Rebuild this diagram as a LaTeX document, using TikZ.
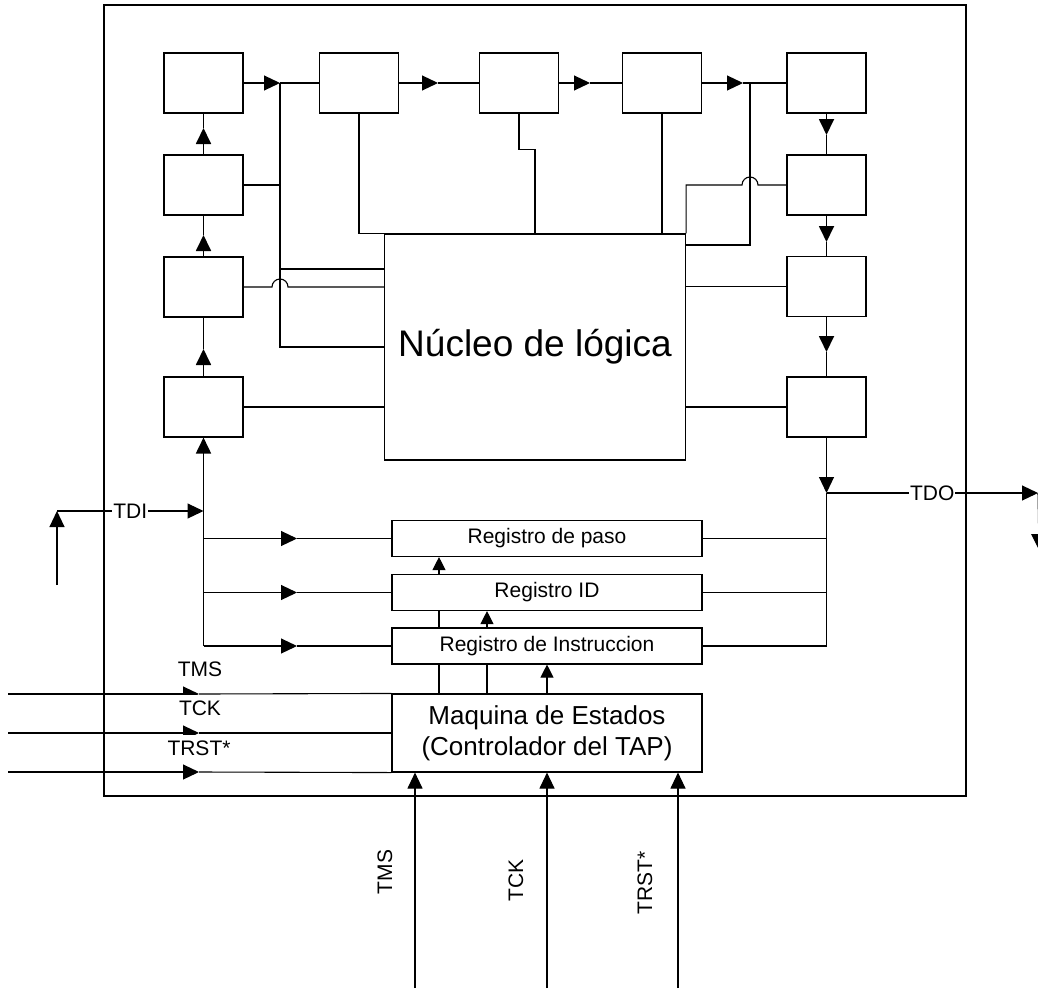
\documentclass[tikz,border=0pt]{standalone}
\usepackage{fontspec}
\setmainfont{Liberation Sans}
\usetikzlibrary{arrows.meta,calc,backgrounds}
\begin{document}
\begin{tikzpicture}[x=1pt,y=-1pt,
  cell/.style={draw,fill=white,minimum width=79pt,minimum height=60pt,inner sep=0pt,line width=1.1pt},
  reg/.style={draw,fill=white,minimum width=310pt,minimum height=36pt,inner sep=0pt,line width=1.1pt,font=\fontsize{21}{25}\selectfont},
  wire/.style={line width=1.1pt},
  arr/.style={line width=1.1pt,-{Triangle[length=16pt,width=15pt]}},
  tarr/.style={line width=1.8pt,-{Triangle[length=16pt,width=15pt]}},
  sarr/.style={line width=1.1pt,-{Triangle[length=13pt,width=13pt]}},
  twire/.style={line width=1.8pt},
  lbl/.style={inner sep=1pt,font=\fontsize{21}{25}\selectfont},
  flbl/.style={fill=white,inner sep=1pt,minimum height=27pt,font=\fontsize{21}{25}\selectfont},
]
\useasboundingbox (0,0) rectangle (1038,988);

% outer chip
\node[draw,line width=1.3pt,minimum width=862pt,minimum height=791pt,inner sep=0pt] (chip) at (535,400.5) {};

% cells
\node[cell] (L1) at (203.5,83) {};
\node[cell] (L2) at (203.5,185) {};
\node[cell] (L3) at (203.5,287) {};
\node[cell] (L4) at (203.5,407) {};
\node[cell] (T2) at (359,83) {};
\node[cell] (T3) at (519,83) {};
\node[cell] (T4) at (662,83) {};
\node[cell] (R1) at (826.5,83) {};
\node[cell] (R2) at (826.5,185) {};
\node[cell] (R3) at (826.5,286.5) {};
\node[cell] (R4) at (826.5,407) {};

% core
\node[draw,line width=1.1pt,minimum width=301pt,minimum height=226pt,inner sep=0pt,font=\fontsize{37}{44}\selectfont] (core) at (535,347) {Núcleo de lógica};

% registers
\node[reg] (P) at (547,538.5) {Registro de paso};
\node[reg] (ID) at (547,592.5) {Registro ID};
\node[reg] (IN) at (547,646) {Registro de Instruccion};
\node[draw,fill=white,line width=1.1pt,minimum width=310pt,minimum height=78pt,inner sep=0pt,align=center,font=\fontsize{26}{31}\selectfont] (M) at (547,733) {Maquina de Estados\\(Controlador del TAP)};

% coordinates
\coordinate (a1) at (280,83);
\coordinate (a2) at (438,83);
\coordinate (a3) at (590,83);
\coordinate (a4) at (743,83);
\coordinate (b4) at (750,83);
\coordinate (j1) at (280,269);
\coordinate (k1) at (750,245);
\coordinate (r1) at (826.5,135);
\coordinate (r2) at (826.5,242);
\coordinate (r3) at (826.5,352);
\coordinate (tdo) at (826.5,493);
\coordinate (tdoe) at (1038,493);
\coordinate (tdod) at (1039,550);
\coordinate (busb) at (826.5,646);
\coordinate (l1) at (203.5,128);
\coordinate (l2) at (203.5,235);
\coordinate (l3) at (203.5,349);
\coordinate (lb) at (203.5,646);
\coordinate (tdij) at (203.5,511);
\coordinate (tdic) at (57,511);
\coordinate (tdis) at (57,585);
\coordinate (ax) at (297,0);
\coordinate (in1) at (8,694);
\coordinate (in2) at (8,733);
\coordinate (in3) at (8,772);
\coordinate (ah) at (199,0);
\coordinate (bt1) at (415,988);
\coordinate (bt2) at (547,988);
\coordinate (bt3) at (678,988);

% top row
\draw[arr] (L1.east) -- (a1);  \draw[wire] (a1) -- (T2.west);
\draw[arr] (T2.east) -- (a2);  \draw[wire] (a2) -- (T3.west);
\draw[arr] (T3.east) -- (a3);  \draw[wire] (a3) -- (T4.west);
\draw[arr] (T4.east) -- (a4);  \draw[wire] (a4) -- (R1.west);

% left side to core
\draw[wire] (a1) |- (core.west);
\draw[wire] (L2.east) -- (L2.east -| a1);
\draw[wire] (j1) -- (j1 -| core.west);
\draw[wire] (L3.east) -- (272,287) arc[start angle=180,end angle=360,radius=8] -- (L3.east -| core.west);
\draw[wire] (L4.east) -- (L4.east -| core.west);

% top to core
\draw[wire] (T2.south) |- (core.north west);
\draw[wire] (T3.south) -- ++(0,36) -| (core.north);
\draw[wire] (T4.south) -- (T4.south |- core.north);

% right side to core
\draw[wire] (b4) -- (k1) -- (k1 -| core.east);
\draw[wire] (R2.west) -- (758,185) arc[start angle=0,end angle=-180,radius=8] -- (R2.west -| core.east) -- (core.north east);
\draw[wire] (R3.west) -- (R3.west -| core.east);
\draw[wire] (R4.west) -- (R4.west -| core.east);

% right column chain
\draw[tarr] (R1.south) -- (r1); \draw[twire] (r1) -- (R2.north);
\draw[tarr] (R2.south) -- (r2); \draw[twire] (r2) -- (R3.north);
\draw[tarr] (R3.south) -- (r3); \draw[twire] (r3) -- (R4.north);
\draw[arr] (R4.south) -- (tdo);

% TDO
\draw[arr] (tdo) -- node[lbl,fill=white] {TDO} (tdoe);
\draw[arr] (tdoe) -- (tdod);
\draw[wire] (tdo) -- (busb);
\draw[wire] (P.east) -- (P.east -| tdo);
\draw[wire] (ID.east) -- (ID.east -| tdo);
\draw[wire] (IN.east) -- (busb);

% left column chain
\draw[tarr] (L2.north) -- (l1); \draw[twire] (l1) -- (L1.south);
\draw[tarr] (L3.north) -- (l2); \draw[twire] (l2) -- (L2.south);
\draw[tarr] (L4.north) -- (l3); \draw[twire] (l3) -- (L3.south);
\draw[tarr] (tdij) -- (L4.south);
\draw[twire] (lb) -- (tdij);

% branches to registers
\draw[arr] (P.west -| lb) -- (P.west -| ax);  \draw[wire] (P.west -| ax) -- (P.west);
\draw[arr] (ID.west -| lb) -- (ID.west -| ax); \draw[wire] (ID.west -| ax) -- (ID.west);
\draw[arr] (lb) -- (IN.west -| ax);            \draw[wire] (IN.west -| ax) -- (IN.west);

% TDI
\draw[arr] (tdis) -- (tdic);
\draw[arr] (tdic) -- node[lbl,fill=white] {TDI} (tdij);

% state machine to registers (behind the register boxes)
\begin{scope}[on background layer]
\draw[sarr] ([xshift=-108pt]M.north) -- ([xshift=-108pt]P.south);
\draw[sarr] ([xshift=-60pt]M.north) -- ([xshift=-60pt]ID.south);
\draw[sarr] (M.north) -- (IN.south);
\end{scope}

% left inputs
\draw[arr] (in1) -- (in1 -| ah); \draw[wire] (in1 -| ah) -- (M.north west);
\draw[arr] (in2) -- (in2 -| ah); \draw[wire] (in2 -| ah) -- (M.west);
\draw[arr] (in3) -- (in3 -| ah); \draw[wire] (in3 -| ah) -- (M.south west);
\node[flbl] (lTMS) at (200,669) {TMS};
\node[flbl] (lTCK) at (200,708) {TCK};
\node[flbl] (lTRST) at (199,748) {TRST*};

% bottom inputs
\draw[arr] (bt1) -- ([xshift=-132pt]M.south);
\draw[arr] (bt2) -- (M.south);
\draw[arr] (bt3) -- ([xshift=131pt]M.south);
\node[lbl,rotate=90] (bTMS) at (385,872) {TMS};
\node[lbl,rotate=90] (bTCK) at (516,880) {TCK};
\node[lbl,rotate=90] (bTRST) at (645,883) {TRST*};
\end{tikzpicture}
\end{document}
